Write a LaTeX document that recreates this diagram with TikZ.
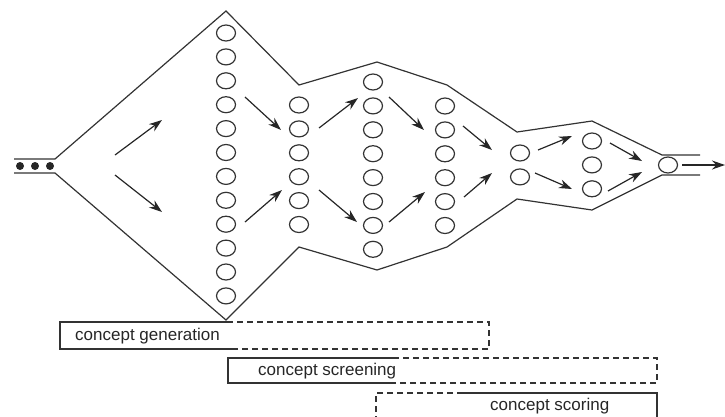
\documentclass[tikz,border=0pt]{standalone}
\usepackage{fontspec}
\setmainfont{Liberation Sans}
\usepackage{tikz}
\usetikzlibrary{arrows.meta,shapes.geometric}

\begin{document}
\begin{tikzpicture}[x=1pt,y=-1pt,>={Stealth[length=13pt,width=9pt]},
    idea/.style={ellipse,draw=black!80,line width=1.2pt,minimum width=19pt,minimum height=16pt,inner sep=0pt},
    funnel/.style={draw=black!80,line width=1.2pt},
    flow/.style={->,draw=black!85,line width=1.2pt},
    phase/.style={anchor=west,inner sep=0pt,font=\fontsize{17}{18}\selectfont,text=black!85},
    later/.style={funnel,dash pattern=on 6pt off 4pt}]
    \useasboundingbox (0,0) rectangle (725,416);

    % funnel outline
    \draw[funnel] (14,159) -- (55,159) -- (226,11) -- (299,85) -- (377,62) -- (447,85)
        -- (517,132) -- (592,121) -- (662,155) -- (700,155);
    \draw[funnel] (14,173) -- (55,173) -- (226,320) -- (299,247) -- (377,270) -- (447,247)
        -- (517,199) -- (592,210) -- (662,175) -- (700,175);
    \foreach \k/\x in {1/20,2/35,3/50}
        \fill[black!85] (\x,166) circle (4pt) coordinate (dot\k);

    % concepts
    \foreach \c/\x/\y/\n in {1/226/33/12, 2/299/105/6, 3/373/82/8, 4/445/106/6, 5/520/153/2, 6/592/141/3}
        \foreach \i in {1,...,\n}
            \node[idea] (c\c-\i) at (\x,{\y+23.9*(\i-1)}) {};
    \node[idea] (out) at (668,165) {};

    % arrows
    \foreach \a/\sx/\sy/\ex/\ey in {1/115/155/162/120, 2/115/175/162/212,
        3/245/97/281/130, 4/245/222/282/190, 5/319/128/358/98, 6/319/190/357/222,
        7/389/97/424/130, 8/389/222/425/192, 9/463/126/492/150, 10/464/197/492/173,
        11/538/150/572/136, 12/535/173/572/189, 13/610/143/642/161, 14/608/191/642/172}{
        \coordinate (s\a) at (\sx,\sy);
        \coordinate (e\a) at (\ex,\ey);
        \draw[flow] (s\a) -- (e\a);
    }
    \coordinate (exit) at (725,165);
    \draw[flow,shorten <=4pt] (out.east) -- (exit);

    % phases
    \draw[funnel] (227,322) -- (60,322) -- (60,349) -- (232,349);
    \draw[later] (227,322) -- (489,322) -- (489,349) -- (232,349);
    \node[phase] (gen) at (75,336) {concept generation};

    \draw[funnel] (393,358) -- (228,358) -- (228,383) -- (393,383);
    \draw[later] (393,358) -- (657,358) -- (657,383) -- (393,383);
    \node[phase] (scr) at (258,371) {concept screening};

    \draw[funnel] (463,393) -- (657,393) -- (657,425);
    \draw[later] (463,393) -- (376,393) -- (376,425);
    \node[phase] (sco) at (490,406) {concept scoring};
\end{tikzpicture}
\end{document}
